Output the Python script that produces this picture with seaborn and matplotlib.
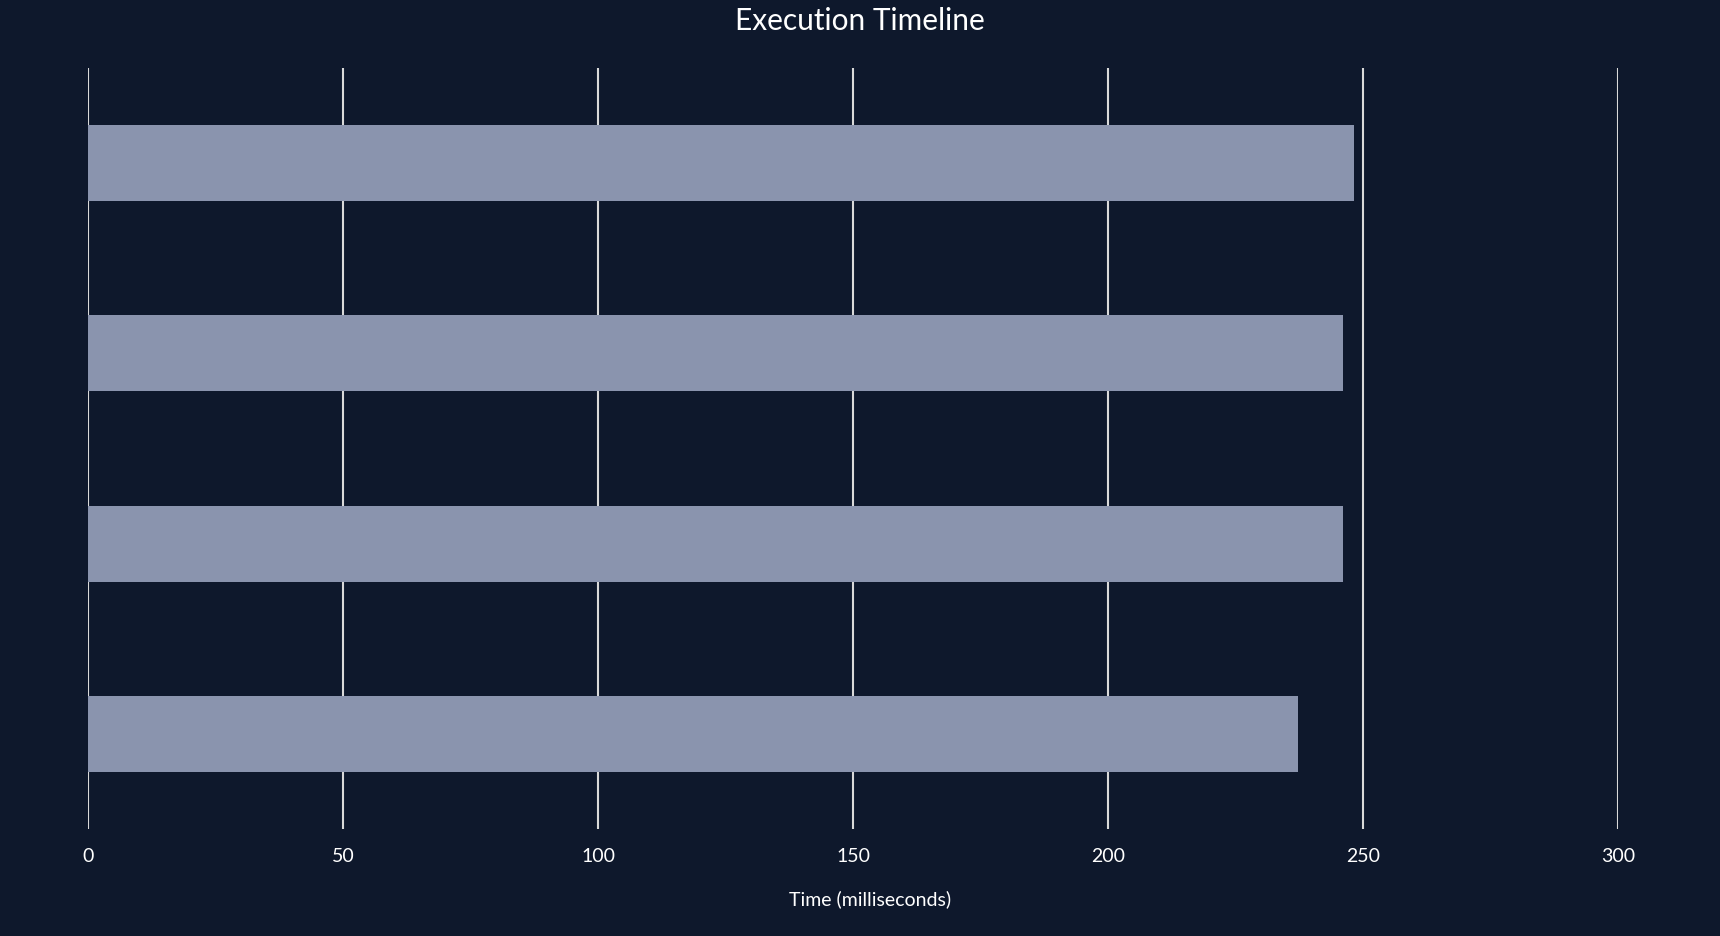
import matplotlib
matplotlib.use("Agg")
import matplotlib.pyplot as plt
import seaborn as sns
import pandas as pd

tasks = ["Task 1", "Task 2", "Task 3", "Task 4"]
durations = [248.2, 246.0, 246.0, 237.2]
x_ticks = [0, 50, 100, 150, 200, 250, 300]

BG = "#0e182c"
BAR = "#8a94ae"
GRID = "#d9d9d9"

sns.set_theme(style="dark")
plt.rcParams["font.family"] = ["Lato", "DejaVu Sans"]

df = pd.DataFrame({"task": tasks, "duration": durations})

fig = plt.figure(figsize=(17.2, 9.36), dpi=100, facecolor=BG)
ax = fig.add_axes([88 / 1720, 1 - 829 / 936, (1618 - 88) / 1720, (829 - 68) / 936])
ax.set_facecolor(BG)

sns.barplot(data=df, x="duration", y="task", orient="h", color=BAR,
            width=0.4, saturation=1, linewidth=0, edgecolor=BAR, ax=ax, zorder=3)

ax.set_xlim(0, 300)
ax.set_ylim(3.5, -0.5)
ax.set_xticks(x_ticks)
ax.set_xticklabels([str(t) for t in x_ticks])
ax.set_yticks([])
ax.set_ylabel("")
ax.xaxis.grid(True, color=GRID, linewidth=1.5, zorder=1)
ax.yaxis.grid(False)
for s in ax.spines.values():
    s.set_visible(False)
ax.tick_params(axis="x", length=0, pad=14, labelsize=14, colors="white")
ax.set_xlabel("Time (milliseconds)", color="white", fontsize=14)
ax.xaxis.set_label_coords(0.511, -0.080)
fig.suptitle("Execution Timeline", color="white", fontsize=21.5, y=0.993)

fig.savefig("out.png", dpi=100, facecolor=BG)
